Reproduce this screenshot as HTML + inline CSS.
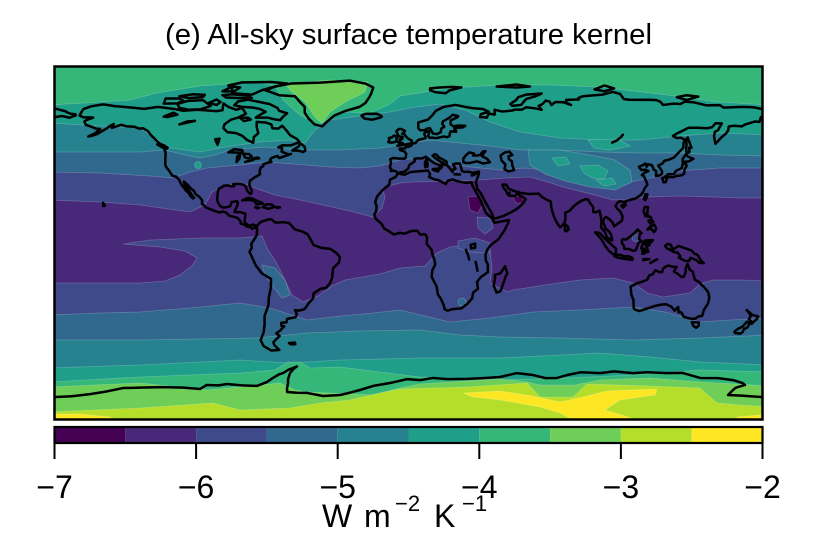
<!DOCTYPE html>
<html>
<head>
<meta charset="utf-8">
<style>
html,body{margin:0;padding:0;background:#fff;}
svg{display:block;}
.c polyline,.c polygon{vector-effect:non-scaling-stroke;}
text{font-family:"Liberation Sans",Arial,Helvetica,sans-serif;fill:#000;}
</style>
</head>
<body>
<svg width="813" height="542" viewBox="0 0 813 542" xmlns="http://www.w3.org/2000/svg">
<rect width="813" height="542" fill="#fff"/>
<text x="408.5" y="44" font-size="28.5" text-anchor="middle" textLength="487" lengthAdjust="spacingAndGlyphs">(e) All-sky surface temperature kernel</text>
<defs>
<clipPath id="m"><rect x="55" y="67" width="708" height="353"/></clipPath>
</defs>
<g clip-path="url(#m)">
<rect x="50" y="60" width="720" height="370" fill="#482878"/>
<g stroke="#ffffff" stroke-opacity="0.22" stroke-width="0.8" fill-rule="evenodd">
<polygon fill="#3e4a89" points="50,60 50,200 100,202 140,205 190,212 205,205 212,192 225,186 240,182 255,188 275,195 300,200 323,205 350,211 373,217 382,208 385,197 382,188 400,183 413,182 450,181 480,180 505,178 530,177 548,182 563,187 587,193 613,200 630,199 647,197 680,196 713,197 740,198 770,198 770,60"/>
<polygon fill="#31688e" points="50,60 50,172 100,173 150,176 173,178 190,172 207,168 240,165 267,162 293,164 330,167 360,168 380,166 400,160 420,158 440,163 470,167 500,170 525,168 560,172 600,178 630,182 650,178 680,171 720,168 770,168 770,60"/>
<polygon fill="#26828e" points="50,60 50,152 100,152 140,152 165,150 185,155 200,158 215,155 230,150 265,147 300,150 340,150 380,148 400,145 430,140 460,143 490,146 520,150 560,150 600,152 640,153 680,153 720,155 770,156 770,60"/>
<polygon fill="#26828e" points="528,150 560,150 590,155 615,160 630,170 632,182 615,190 590,187 565,181 545,174 530,165"/>
<polygon fill="#1f9e89" points="50,60 50,123 100,126 140,128 155,138 170,148 200,152 225,147 260,142 290,140 305,143 315,130 330,120 360,116 390,112 410,108 440,104 465,110 490,122 520,132 560,138 600,140 640,140 680,136 720,133 770,135 770,60"/>
<polygon fill="#1f9e89" points="552,158 566,157 570,164 558,166"/>
<polygon fill="#1f9e89" points="580,166 598,165 608,171 604,179 592,178 584,173"/>
<polygon fill="#1f9e89" points="596,180 612,178 616,184 604,186"/>
<polygon fill="#1f9e89" points="588,140 618,139 630,146 610,150 594,148"/>
<circle cx="198" cy="165" r="3.5" fill="#1f9e89"/>
<polygon fill="#35b779" points="50,60 50,105 100,102 130,100 157,93 200,86 257,82 275,86 283,100 300,115 318,125 330,118 345,112 370,113 390,104 400,96 450,88 500,85 550,85 600,87 667,95 717,102 770,105 770,60"/>
<polygon fill="#6ece58" points="285,84 330,80 368,82 365,92 345,102 330,112 322,123 315,117 305,102 292,92"/>
<polygon fill="#3e4a89" points="50,283 100,283 140,283 165,281 180,275 192,266 197,258 185,251 160,247 123,244 150,240 200,238 240,238 262,236 268,250 276,262 284,278 292,295 303,302 318,296 332,286 345,280 380,274 400,268 425,266 437,253 450,247 463,245 480,243 490,250 492,267 490,283 507,292 513,290 545,285 580,280 613,278 633,283 647,293 663,297 690,293 700,284 713,280 740,280 770,281 770,430 50,430"/>
<polygon fill="#31688e" points="50,315 100,313 140,312 190,308 240,303 270,308 307,320 340,316 373,313 400,310 425,316 450,322 490,318 533,312 580,310 633,307 665,312 700,322 730,320 770,318 770,430 50,430"/>
<polygon fill="#26828e" points="50,340 140,340 200,339 257,338 307,333 360,331 420,330 460,335 500,337 560,338 633,340 700,338 770,335 770,430 50,430"/>
<polygon fill="#1f9e89" points="50,368 140,365 240,360 290,363 340,360 420,358 500,358 560,355 600,353 650,357 700,362 770,365 770,430 50,430"/>
<polygon fill="#35b779" points="50,382 140,377 240,373 275,370 288,362 300,362 310,368 340,367 380,372 420,377 500,380 567,378 633,375 700,370 770,372 770,430 50,430"/>
<polygon fill="#6ece58" points="50,387 140,383 207,390 250,386 280,383 295,390 307,392 373,395 400,388 420,384 467,381 500,379 527,382 540,385 575,385 600,380 650,378 700,382 770,386 770,430 50,430"/>
<polygon fill="#b5de2b" points="50,412 140,408 213,403 240,410 290,408 320,403 350,400 380,393 400,389 467,387 527,383 540,397 573,397 587,384 650,386 700,388 717,403 740,405 770,407 770,430 50,430"/>
<polygon fill="#fde725" points="463,393 500,391 533,396 560,402 587,396 607,391 630,390 657,389 655,395 620,400 605,410 625,416 640,421 575,421 560,413 540,407 500,400 473,397"/>
<polygon fill="#fde725" points="50,414 80,414 110,417 115,421 50,421"/>
<polygon fill="#fde725" points="737,417 770,414 770,421 737,421"/>
<polygon fill="#440154" points="468,197 478,196 482,205 478,213 470,210"/>
<polygon fill="#440154" points="513,197 522,196 524,203 516,203"/>
<polygon fill="#3e4a89" points="477,217 490,218 493,228 485,234 478,228"/>
<polygon fill="#3e4a89" points="458,241 475,238 490,243 490,253 470,252 458,248"/>
<polygon fill="#31688e" points="262,265 275,268 285,280 290,295 282,298 272,285 265,275"/>
<ellipse cx="636" cy="238" rx="4" ry="3.5" fill="#3e4a89"/>
<circle cx="462" cy="302" r="4" fill="#31688e"/>
</g>
<g class="c" transform="translate(408.5,243) scale(1.958333,-1.944444)" fill="none" stroke="#000" stroke-width="2.5" stroke-linejoin="round" stroke-linecap="round">
<polygon points="-168,65.6 -166,68.9 -162,70.3 -156,71.3 -150,70.4 -141,69.6 -135,69 -128,70 -120,69 -115,68 -108,68.5 -98,67.8 -95,68.3 -94.5,71.8 -92,70 -88,68.5 -85,69.5 -83,66.5 -87,64.5 -90.5,63.5 -94,61 -94.5,59 -92.5,57 -88,56.5 -85,55.2 -82.3,52.9 -79.3,51.6 -79,54.5 -76.7,56.5 -77.5,59.5 -77.5,62.3 -73,62 -70,61 -69.5,59 -66.5,58.8 -64.5,60.3 -62,57.5 -60.5,55.5 -57,53.5 -55.7,52 -57,51.4 -60,50.2 -64.5,50.2 -66.5,49.2 -64.5,48.8 -64.8,47 -61.5,45.6 -60,45.8 -63.5,44.6 -66,43.7 -67,44.8 -70,43.7 -70.7,42.6 -70,41.7 -71.5,41.4 -74,40.6 -74.2,39.5 -75.5,38.8 -76,37 -75.8,35.5 -77,34.6 -78.5,33.8 -81,32 -81.3,30 -80.5,28 -80,26.5 -80.5,25.2 -81.5,25.8 -82.7,27.5 -83,29 -84.3,30 -86,30.4 -88,30.4 -89.5,30.2 -89,29.2 -90.5,29.1 -92,29.6 -94,29.6 -95.2,28.8 -97,27.8 -97.4,25.8 -97.6,24 -97.7,21.8 -96.3,19 -94.5,18.2 -92,18.6 -91,19 -90.5,20.5 -90.3,21.1 -87.5,21.5 -87.1,20.5 -87.7,18.5 -88.3,17.5 -88.8,15.9 -86,15.9 -83.3,15 -83.5,12.5 -83.8,11 -82.5,9.5 -81,8.8 -79.5,9.5 -77.5,8.7 -77.8,7.5 -78.5,8 -80,7.3 -80.5,8.2 -82,8.2 -84,9.5 -85.7,10 -85.7,11.2 -87.5,13 -89,13.4 -91.5,14 -93,15.5 -94.5,16.2 -96.5,15.7 -98.5,16.3 -101.5,17.5 -103.5,18.4 -105.5,20.3 -105.3,21.8 -106.5,23.4 -108.8,25.3 -109.5,26.7 -111,27.9 -112.7,29.8 -114.7,31.6 -114.3,30 -112.8,28 -111.5,26 -110.3,24.2 -109.5,23.2 -110,22.9 -111.5,24.3 -112.2,25.7 -114,27.3 -114.3,28.1 -115.7,29.7 -116.7,31.5 -117.1,32.5 -118.5,34 -120.6,34.6 -121.9,36.6 -122.5,37.5 -123.7,39 -124.2,40.3 -124.2,43 -124,46.3 -124.7,48.4 -123,49 -124.5,50 -127.5,51.5 -130,54 -131.5,55.5 -133,57.5 -135.5,59 -137.5,58.8 -140,59.8 -144,60 -146.7,60.8 -148.5,60.2 -151.5,59.2 -150.5,61.2 -152,60.5 -154,59 -156.5,57.5 -159,56 -162,55 -163.5,54.8 -160,56.5 -157.5,58.6 -159.5,58.8 -162,59.8 -164.8,60.8 -165.5,62.5 -164.5,63.2 -161,64.5 -163,64.6 -166,64.6"/>
<polygon points="-82,73.7 -77,72.7 -71,71.5 -67,69.5 -66,68 -62,66.7 -64,65 -65.5,63.2 -68,63.5 -72,64.5 -78,64.5 -76,65.8 -73,67.5 -76,69 -80,69.7 -85,70 -89,70.8 -87,72.8"/>
<polygon points="-90,77 -80,76.3 -75,78.5 -70,80 -62,82 -70,82.8 -85,82.6 -92,81 -90,79.5"/>
<polygon points="-93,74.8 -86,74.5 -80,74.6 -82,75.8 -90,76.5 -95,76"/>
<polygon points="-118,71.5 -113,73 -105,73.5 -101,70.5 -106,68.8 -112,68.5 -117,69.5"/>
<polygon points="-125,71.7 -124,74.3 -117,74.3 -115,73.3 -118,71.8"/>
<polygon points="-117,75.5 -110,76.5 -104,76.2 -105,75 -112,74.5"/>
<polygon points="-102,72 -98,73.8 -96,72.5 -98,71"/>
<polygon points="-95,78 -90,80.5 -86,80 -89,78"/>
<polygon points="-86,64.3 -82,64.5 -80.5,63.5 -84,62.7"/>
<polygon points="-59.3,47.6 -56,49.7 -55.5,51.5 -53,49.5 -52.7,47.5 -53.8,46.8 -56,47.5"/>
<polygon points="-123.5,48.4 -125.5,49 -128.3,50.7 -125,50.3"/>
<polygon points="-92,46.7 -89,48.2 -85,47.8 -84.5,46.5 -87,46.5"/>
<polygon points="-87.8,41.7 -87.5,44.5 -86,45.8 -86.3,43.5"/>
<polygon points="-84.5,45.8 -81.5,45.8 -80,44.5 -81.7,43.5 -83.5,44"/>
<polygon points="-83.4,41.7 -79,42.9 -81,42.3"/>
<polygon points="-79.8,43.3 -76.3,43.5 -77,44"/>
<polygon points="-117,61 -113,62.5 -109,62.8 -114,61.7"/>
<polygon points="-125,65 -120,67 -118,66 -123,64.8"/>
<polygon points="-97.5,50.5 -96.5,53.7 -98.7,53.3"/>
<polygon points="-73,78.5 -68,80.5 -60,82 -45,82.5 -30,83.5 -22,82 -18,80 -19,77 -20,75 -22,72 -25,70 -32,68 -38,65.5 -42,62 -44,60 -48,61 -51,64 -53,67 -53,70 -55,72 -58,75.5 -66,76"/>
<polygon points="-22.5,64 -24,65.5 -22,66.4 -16.5,66.5 -14.5,65.8 -13.6,65 -15,64.3 -18.5,63.4"/>
<polygon points="-84.9,21.9 -82,23.2 -80.6,23.1 -77.5,21.8 -75.6,21 -74.2,20.3 -77.7,19.9 -78.5,21.5 -81.5,22.2"/>
<polygon points="-74.5,18.4 -72.5,19.9 -70,19.8 -68.3,18.6 -71.4,17.6"/>
<polygon points="-78.3,18.4 -76.2,18.1 -77,17.8"/>
<polygon points="-67.2,18.5 -65.6,18.3 -67.2,18"/>
<polygon points="-156,20.7 -155,19.2 -155.9,19"/>
<polygon points="-77.5,8.7 -75.5,10.8 -72,12 -70,12.2 -68,10.5 -64,10.7 -61,10.3 -58,7 -54,5.8 -51.5,4.5 -50,1.8 -48.5,-1 -44.5,-2.5 -40,-3 -37,-5 -35,-7.2 -35.5,-10 -38.5,-13 -39,-18 -40,-20.5 -42,-23 -45,-23.6 -48.5,-26 -48.7,-28.5 -51,-31 -53,-34 -56,-34.8 -58,-34.5 -57,-36.5 -57.7,-38.2 -62,-39 -62.3,-40.8 -65,-41 -65,-42.5 -63.5,-42.8 -65.5,-45 -67.5,-46.5 -65.8,-47.8 -69,-51 -68.5,-52.5 -66,-55 -70,-55.3 -74,-53 -75.5,-50 -74,-46 -73.5,-42 -73.5,-37.5 -71.5,-32 -71.3,-28 -70.3,-23 -70.2,-18.5 -75,-15.5 -78,-11.5 -80.5,-6 -81.2,-4.5 -80,-2.5 -80.3,-0.5 -79,1.5 -77.5,4 -77.3,7"/>
<polygon points="-61,-51.5 -58,-51.2 -57.8,-52 -60,-52.2"/>
<polygon points="-17,21 -16,24 -13,27.5 -9.8,30 -9.5,32.5 -6.5,34 -5.5,35.8 -2,35.1 1,36.5 10,37.3 11,35.5 10.5,34 13,32.8 15.3,32.3 19,30.3 20,32 22.5,32.7 25,31.8 29,30.9 32.3,31.2 32.5,29.9 34,27 36,23.5 37.2,21 38.5,18 39.5,15.5 42.5,12.8 43.3,11.6 44,10.4 51.2,11.8 51,10.5 49,6.5 46,2 42,-1 40.2,-3.5 39.3,-6 39.5,-9 40.5,-11 40.5,-15 37,-17.5 35,-20 35.5,-23.5 33,-25.5 32.5,-28.5 30,-31.3 27,-33.6 22.5,-34 20,-34.8 18.4,-34 18,-32 16.5,-28.6 15,-26.5 14.4,-22.5 11.8,-17.3 12.2,-14 13.7,-11 13.2,-8.5 12.2,-6 11.8,-3.5 9.3,-0.5 9.5,3 8.5,4.5 6,4.3 4.5,6.3 1.5,6.2 -2,4.8 -4.5,5.2 -7.5,4.4 -10,6 -12.5,7.5 -13.5,9.5 -15,11 -16.8,12.5 -17.5,14.7 -16.5,16.2 -16.3,19"/>
<polygon points="49.3,-12 50.5,-15.5 49.7,-17 48.5,-20.5 47,-24.8 45,-25.5 43.5,-22 44.2,-18 44,-16.5 47,-15.5"/>
<polygon points="31.7,-1 34,-0.3 34,-2.5 32,-2.8"/>
<polyline points="29.3,-3.5 30.5,-6.5 31,-8.5"/>
<polyline points="34.3,-9.7 34.8,-12 35.2,-14.3"/>
<polyline points="34.9,29.5 35,28 37,25.5 39,21.5 41,18 42.7,15 43.3,12.7 45,12.8 48.7,14 52,15.6 55,17.3 57,18.9 58.5,20.5 59.8,22.5 58.5,23.6 56.5,24.5 56.3,26.2 56,26 54.5,24.2 51.5,24.3 51.6,26 50.8,24.8 50,26.5 48.5,28.5 48,30 50,30 51,28 54,26.7 57,25.8 61.5,25.2 66.5,25.4 68,23.8 70,22.5 72.7,21.3 72.8,19 73.5,16 74.5,13 76,10 77.5,8.1 78.5,9 79.8,10.5 80.2,13.5 80,15.5 82.3,16.6 84.5,19 86.9,20.9 88.5,21.8 90.5,22.5 91.8,22.3 92.5,20.8 94.3,18.5 94.3,16 95.5,15.8 97.6,16.6 98.3,13 98.5,10.5 98.3,8 100.4,5.5 101.3,2.9 103.5,1.3 104,1.4 103.4,4.5 102.2,6.2 100.5,7.5 100,9.3 99.3,10.8 100,12.8 100.9,13.4 102.6,12.2 104.3,10.5 105,8.6 106.7,9.8 109,11.5 109.3,13.5 108.3,16 106.5,17.8 105.7,19 106.7,20.7 108,21.5 110,21 110.5,20.3 111,21.5 113.5,22.3 116,22.9 118.5,24.6 119.7,26 120.5,28 122,30 121.5,31.5 121,32.5 120.3,34.3 119.2,35 120.6,36.2 122.5,37 121,37.7 118.9,37.6 118,38.6 117.7,39.2 119.5,40 121,40.8 121.6,39.2 122.3,40.5 124.3,40 125.3,37.7 126.5,37 126.4,34.5 127.8,34.7 129.4,35.5 129.5,36.8 128.4,38.6 127.5,39.8 129.7,40.9 130.7,42.3 132.9,42.8 135.5,43.9 138.2,46.8 140.3,48.9 140.5,51.7 141.4,53 139,54.2 137,54 135,55 137.2,56.4 140.5,58 143,59.3 148,59.3 152.3,59 155,59.5 156.8,61.6 160,61.5 158,58 156.5,57.3 156,55 156.7,51 158.5,52.9 160,54.5 162,56.2 163.3,58 163.5,59.9 166,60.3 170.3,60 172,61 177,62.5 179.2,62.3 180,64.8"/>
<polyline points="180,69 176,69.8 170,70 161,69.6 159,70.9 152,70.8 146,72.3 141,72.7 139,71.5 135.5,71.7 130,71 128.5,72.7 126.5,73.5 123,73.7 118,73.6 113,73.7 110,74 108,76.7 104.3,77.7 99,76.3 95,76 89,75.5 86.7,74.5 87,73.8 80.5,73.6 80.5,72.3 83,71 79,72.4 75,72.5 73,71 72,72.8 70,73.2 68.5,71.5 66.5,70.5 68,68.5 65,69.2 60,69.8 58,68.6 54,68.6 53.5,68.2 48,67.6 44,68.5 44,66 41,66.6 40,64.5 36.5,64.8 37,66.3 41,67.5 38,68.9 33,69.3 29,70 24,71 18,70 14,68 12,65.5 10,63.5 5,62 5,59 6,58 8,58 10,59 11,59 11.5,58 12.5,56.3 14.5,56 16.5,57 16.7,58.8 18.3,59.8 17.2,61.3 17.6,62.5 21,64.5 22.5,65.9 25.3,65.3 25.2,64.8 21.5,63 21.5,61 23,60 25,60.4 29,60.3 27.5,59.4 23.5,59.2 23.5,58.3 24.3,57.9 24.3,57.2 21.5,57.4 21,56 21,55 19.6,54.4 18,54.8 14.2,53.9 12,54.2 10.9,54 10,55 10.5,56.5 10.5,57.5 8.6,57.1 8,56 8.6,55 8.7,53.9 7,53.5 5,53 3.6,51.5 1.7,51 1.6,50.2 0,49.5 -1.3,49.7 -1.6,48.7 -4.6,48.5 -4.3,47.8 -2,47 -1.2,46 -1.4,44 -1.8,43.4 -4.5,43.4 -8,43.7 -9.3,43 -8.9,41.5 -9.5,38.8 -8.8,38 -9,37 -7.5,37.2 -6.3,36.8 -5.6,36 -2,36.7 0,38.5 0.3,40 3.2,42 3,43.3 4.5,43.5 7,43.5 8.8,44.4 10.5,43 12.5,41.5 15.7,40 16,38 17,39 16.8,40.4 18.5,40.1 18,41 16,42 13.8,43.6 12.3,44.9 13.5,45.7 14.5,45.2 15.5,44 17.5,43 19.5,41.8 19.4,40.3 21,38.5 22.5,36.5 23,38 24,38.2 22.8,40.5 24,40.8 26.2,40.9 26.4,40.2 27,38.5 27.3,37 28.5,36.6 30.6,36.7 32.5,36.1 36,36.7 35.8,35 35,33 34.5,31.5 34.3,31.3 34.9,29.5"/>
<polyline points="-180,64.8 -177,65.3 -173,64.4 -172,65 -170,65.5 -170,66.2 -172.5,66.5 -174,67 -175,67.7 -178,68.5 -180,69"/>
<polygon points="47,45 49,46.5 51.5,47 53,45.3 51,44.5 51.3,43 52.8,42 53,40 53.9,37.5 51,36.8 49,38 49.5,40.3 47.5,42.5"/>
<polygon points="28,41.5 28,43.5 29.5,45.3 31,46.6 33.5,46 33,45 35,45 36.5,45.3 38,47 39.3,47.2 38,45.5 37.5,44.7 40,43.4 41.6,41.5 38,40.9 35,42 31,41.1 29,41.2"/>
<polyline points="104,51.6 106.5,52.8 108.5,54.5 109.5,55.7"/>
<polygon points="-5.7,50 1.4,51.2 1.7,52.7 0,53.5 -1.5,55 -2,55.9 -3.2,56.1 -1.8,57.6 -3.5,58.6 -5,58.6 -6.2,57.5 -5.6,56 -4.8,54.8 -3,54.5 -3.2,53.4 -4.6,53.3 -4.2,52.2 -5.2,51.7 -3,51.4"/>
<polygon points="-6,52.2 -6.2,53.9 -5.6,54.6 -7.3,55.3 -8.5,54.3 -10,54 -9.8,53 -10.3,51.9 -8.5,51.6"/>
<polygon points="12.4,38 15.6,38.3 15.1,36.7 12.4,37.7"/>
<polygon points="8.4,41 9.8,41 9.6,39.2 8.5,39"/>
<polygon points="9,43 9.5,42.7 9.4,41.4 8.6,41.9"/>
<polygon points="23.5,35.3 26.3,35.2 24,35.4"/>
<polygon points="32.3,34.7 34.6,35.6 33,35.3"/>
<polygon points="11,79.5 16,80 22,80.3 27,80 21,78.5 19,77 14,77.5 11,78.5"/>
<polygon points="52,71.5 55,73.5 56,75 60,76.3 68,76.9 65,75.5 60,74 57.5,71 53,70.5"/>
<polygon points="95,79 100,81 105,79.5 100,78"/>
<polygon points="45,80.5 55,81.5 62,80.5 55,80"/>
<polygon points="137,75 142,76 148,75.3 142,73.5"/>
<polygon points="130.9,34 132.5,35.4 135.5,35.5 136.5,37 139.5,38.5 140,40.5 141.5,41.3 142,39.5 141,38 140.8,35.7 139.8,35 138.5,34.6 137,34.6 135.2,33.8 133,34 131.5,33.5"/>
<polygon points="129.5,33.3 131,34 132,33 131.3,31.3 130.2,31.2 129.8,32.8"/>
<polygon points="140,41.5 140,43.2 141.5,45.4 143,44.3 145.5,43.3 143.2,42 141.2,41.8"/>
<polygon points="142,46 143.5,46.8 143.3,49 144.5,49 143,53 142.6,54.3 141.7,53.3 142,51 141.8,48.5"/>
<polygon points="120.2,22.6 121,25 122,25 121.5,23 120.8,22"/>
<polygon points="108.7,19.2 110.5,20.1 111,19.6 109.5,18.2"/>
<polygon points="79.8,6.5 80,9.7 81.3,8.5 81.8,7 80.5,6"/>
<polygon points="120,16 120.6,18.5 122.3,18.5 122,16.5 122,14.2 124,13 123,13.5 121,13.8 120.6,15"/>
<polygon points="122,7 123.5,8.5 125.5,9.5 126.5,7.5 126,6.3 125.3,5.6 124,7.3"/>
<polygon points="122.5,11.5 124,12 125,11 123.5,10"/>
<polygon points="109,1.5 109.6,2 111,1.7 113,3.2 115.5,5.2 117,7 119,5 118,4.3 117.8,2 119,1 117.5,0 116.5,-2.5 116,-3.8 114.5,-4 113,-3.2 111.7,-3 110.2,-2.9 110,-1.5 109,0"/>
<polygon points="95.3,5.5 97.5,5.2 100.3,2.3 103.8,-1 106,-3 105.8,-5.8 104.5,-5.8 102.3,-4 100.8,-2 98.6,1.8"/>
<polygon points="105.2,-6.8 106,-6 108.3,-6.2 110.5,-6.9 112.6,-6.9 114.5,-7.8 114.3,-8.7 110,-8.1 106.5,-7.4"/>
<polygon points="119.4,-5.5 119.5,-3.5 118.8,-2.7 119.8,0 120.9,1.3 124.8,1.5 124.1,0.4 121,0.4 120.2,-0.5 121.5,-1 123.2,-0.9 121.5,-1.9 122.5,-4.5 121.3,-4.8 120.3,-2.9 120.4,-5.5"/>
<polygon points="123.5,-10.3 127,-8.4 125,-9.4"/>
<polygon points="119.8,-8.8 123,-8.3 120,-8.3"/>
<polygon points="131,-1.5 132.4,-0.4 134,-1 135,-3.4 137.9,-1.5 141,-2.6 144.6,-3.9 146,-5.5 147.6,-6.1 149.3,-9 150.8,-10.3 148.5,-10.2 147,-8.8 144,-7.6 143.3,-9.2 141,-9.1 139.1,-8.1 138,-7.4 138.8,-6.8 137.5,-5 135.2,-4.5 133.6,-3.5 132,-2.8"/>
<polygon points="113.4,-22.5 113.8,-26.5 114.9,-29.5 115,-33.5 115.7,-34.3 118,-35 121.5,-33.8 124,-33 126,-32.3 129,-31.7 131.5,-31.5 134.2,-32.7 135.9,-34.8 137.7,-32.9 137.9,-35.7 138.8,-35.5 139.6,-36.1 140.6,-38 143.5,-38.8 146.3,-39 148,-37.8 150,-37.4 150.8,-34.5 153,-31 153.6,-28 153,-25.2 150.8,-22.5 149.5,-21.5 148.7,-20.3 146.3,-18.9 145.4,-16 145.3,-14.9 143.6,-13.7 142.5,-10.7 141.6,-12.9 141.5,-15.1 140.6,-17.4 139.3,-17.4 137.4,-15.8 135.5,-14.7 136.9,-12.3 135,-12.2 132.6,-11.6 131.2,-12.2 130,-13.2 129.5,-15 128,-14.9 126.1,-14 124.4,-16.3 123,-16.5 121.9,-18.9 119,-20 116.7,-20.7 114.6,-21.8"/>
<polygon points="144.7,-40.7 148.3,-40.9 148.2,-42.5 146.9,-43.6 145.4,-42.6"/>
<polygon points="172.7,-34.5 174.5,-36 175.5,-37 178.5,-37.7 177.8,-39.2 176.8,-40 175.2,-41.6 174.6,-40.8 175.2,-40.5 173.8,-39.2 174.6,-38 174.3,-36.5"/>
<polygon points="172.8,-40.5 174.2,-41.3 173.4,-42.9 172.7,-43.7 171.3,-44.2 170.6,-45.9 169.3,-46.6 166.6,-46.2 166.5,-45.5 168.3,-44.1 170.6,-43 171.9,-41.5"/>
<polyline points="-180,-79.2 -172,-78.8 -162.6,-77.7 -155,-76.5 -145.8,-74.6 -135,-74.3 -125.4,-74.1 -115,-74.4 -106.5,-75.1 -103,-73 -97,-73.2 -92.7,-72.5 -85,-73.2 -77.4,-73.5 -72.3,-71.5 -69.2,-69.4 -66,-67.5 -64.1,-66.9 -61,-65 -59,-64.3 -57,-63.5 -58.5,-64.6 -60.5,-66.9 -61.5,-70 -61.5,-72 -62,-74.5 -62,-76.6 -57,-77 -51.8,-77.1 -43.6,-78.7 -35,-78.2 -30,-77 -24.8,-75.6 -18,-73.5 -9.4,-72 -5,-71 -0.8,-70 5.9,-70.5 12.5,-69.4 20,-70 29.9,-69.9 38,-69.5 46.7,-68.9 55.4,-66.9 63.6,-67.9 70,-69.5 75.8,-69.4 81,-67.9 88,-66.5 97.8,-66.9 105,-66 114.6,-66.9 122,-66.5 132,-66.9 140,-66.8 148.9,-69.4 158,-69.5 165.7,-70.5 170.5,-72 171.8,-73 167,-74.5 165.7,-75.6 163.2,-78.2 170,-78.5 180,-79.2"/>
</g>
</g>
<rect x="54.5" y="66.5" width="708" height="353" fill="none" stroke="#000" stroke-width="2.5"/>
<g>
<rect x="54.5" y="427" width="70.8" height="16" fill="#440154"/>
<rect x="125.3" y="427" width="70.8" height="16" fill="#482878"/>
<rect x="196.1" y="427" width="70.8" height="16" fill="#3e4a89"/>
<rect x="266.9" y="427" width="70.8" height="16" fill="#31688e"/>
<rect x="337.7" y="427" width="70.8" height="16" fill="#26828e"/>
<rect x="408.5" y="427" width="70.8" height="16" fill="#1f9e89"/>
<rect x="479.3" y="427" width="70.8" height="16" fill="#35b779"/>
<rect x="550.1" y="427" width="70.8" height="16" fill="#6ece58"/>
<rect x="620.9" y="427" width="70.8" height="16" fill="#b5de2b"/>
<rect x="691.7" y="427" width="70.8" height="16" fill="#fde725"/>
<rect x="54.5" y="427" width="708" height="16" fill="none" stroke="#000" stroke-width="2.2"/>
</g>
<g stroke="#000" stroke-width="2">
<line x1="54.5" y1="443" x2="54.5" y2="459"/>
<line x1="196.1" y1="443" x2="196.1" y2="459"/>
<line x1="337.7" y1="443" x2="337.7" y2="459"/>
<line x1="479.3" y1="443" x2="479.3" y2="459"/>
<line x1="620.9" y1="443" x2="620.9" y2="459"/>
<line x1="762.5" y1="443" x2="762.5" y2="459"/>
</g>
<g font-size="32" text-anchor="middle">
<text x="54.5" y="498">−7</text>
<text x="196.1" y="498">−6</text>
<text x="337.7" y="498">−5</text>
<text x="479.3" y="498">−4</text>
<text x="620.9" y="498">−3</text>
<text x="762.5" y="498">−2</text>
</g>
<text y="527" font-size="32"><tspan x="322">W</tspan><tspan x="364">m</tspan><tspan x="395" y="511" font-size="22">−2</tspan><tspan x="434" y="527" font-size="32">K</tspan><tspan x="462" y="511" font-size="22">−1</tspan></text>
</svg>
</body>
</html>
